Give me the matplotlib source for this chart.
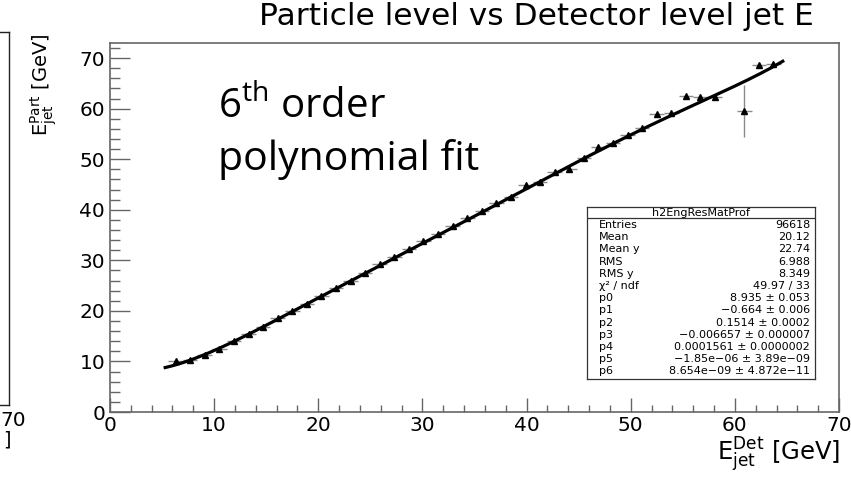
import numpy as np
import matplotlib
matplotlib.use('Agg')
import matplotlib.pyplot as plt
from matplotlib.ticker import MultipleLocator

# profile bins (bin centres, mean y, error on mean)
det_e = [6.3, 7.7, 9.1, 10.5, 11.9, 13.3, 14.7, 16.1, 17.5, 18.9,
         20.3, 21.7, 23.1, 24.5, 25.9, 27.3, 28.7, 30.1, 31.5, 32.9,
         34.3, 35.7, 37.1, 38.5, 39.9, 41.3, 42.7, 44.1, 45.5, 46.9,
         48.3, 49.7, 51.1, 52.5, 53.9, 55.3, 56.7, 58.1, 60.9, 62.3, 63.7]
part_e = [10.0, 10.2, 11.3, 12.5, 14.0, 15.4, 16.9, 18.5, 19.9, 21.4,
          23.0, 24.5, 25.9, 27.5, 29.2, 30.6, 32.2, 33.8, 35.3, 36.7,
          38.3, 39.8, 41.3, 42.5, 45.0, 45.6, 47.5, 48.0, 50.3, 52.5,
          53.2, 54.8, 56.2, 59.0, 59.2, 62.5, 62.3, 62.3, 59.5, 68.6, 68.8]
part_err = [0.3, 0.1, 0.1, 0.1, 0.1, 0.1, 0.1, 0.1, 0.1, 0.1,
            0.1, 0.1, 0.1, 0.1, 0.1, 0.1, 0.1, 0.1, 0.1, 0.1,
            0.1, 0.1, 0.1, 0.1, 0.1, 0.1, 0.1, 0.1, 0.1, 0.1,
            0.2, 0.2, 0.2, 0.2, 0.2, 0.3, 0.3, 0.3, 5.1, 0.4, 0.4]
bin_half_width = 0.7

# 6th order polynomial fit parameters p0..p6 and fit range
fit_p = [8.935, -0.664, 0.1514, -0.006657, 0.0001561, -1.85e-06, 8.654e-09]
fit_range = [5.3, 64.6]

stat_title = 'h2EngResMatProf'
stat_labels = ['Entries', 'Mean', 'Mean y', 'RMS', 'RMS y', 'χ² / ndf',
               'p0', 'p1', 'p2', 'p3', 'p4', 'p5', 'p6']
stat_values = ['96618', '20.12', '22.74', '6.988', '8.349', '49.97 / 33',
               '8.935 ± 0.053', '−0.664 ± 0.006', '0.1514 ± 0.0002',
               '−0.006657 ± 0.000007', '0.0001561 ± 0.0000002',
               '−1.85e−06 ± 3.89e−09', '8.654e−09 ± 4.872e−11']

W, H = 851, 478
fig = plt.figure(figsize=(W / 100, H / 100), dpi=100)
plt.rcParams['font.family'] = ['DejaVu Sans']
frame_col = '#666666'


def fx(px):
    return px / W


def fy(py):
    return 1 - py / H


# cut-off neighbouring panel on the left
lax = fig.add_axes([-0.5, fy(405), 0.5 + fx(9.5), fy(32) - fy(405)])
lax.set_xticks([])
lax.set_yticks([])
for s in lax.spines.values():
    s.set_color('#222222')
    s.set_linewidth(1)
fig.text(fx(0), fy(411), '70', ha='left', va='top', fontsize=14.5)
fig.text(fx(3), fy(430), ']', ha='left', va='top', fontsize=14)

# main panel
ax = fig.add_axes([fx(110), fy(412), fx(839) - fx(110), fy(43) - fy(412)])
ax.set_xlim(0, 70)
ax.set_ylim(0, 73)

ax.errorbar(det_e, part_e, xerr=bin_half_width, yerr=part_err, fmt='^',
            color='black', markersize=5, ecolor='#8a8a8a', elinewidth=1,
            capsize=0, zorder=3)

xf = np.linspace(fit_range[0], fit_range[1], 300)
yf = np.polynomial.polynomial.polyval(xf, fit_p)
ax.plot(xf, yf, color='black', lw=2.3, zorder=4)

ax.xaxis.set_major_locator(MultipleLocator(10))
ax.xaxis.set_minor_locator(MultipleLocator(2))
ax.yaxis.set_major_locator(MultipleLocator(10))
ax.yaxis.set_minor_locator(MultipleLocator(2))
ax.tick_params(which='both', direction='in', color=frame_col, top=False,
               right=False, labelsize=14.5, width=1)
ax.tick_params(axis='x', which='major', length=10, pad=3)
ax.tick_params(axis='x', which='minor', length=5)
ax.tick_params(axis='y', which='major', length=14.5, pad=3.5)
ax.tick_params(axis='y', which='minor', length=7)
for s in ax.spines.values():
    s.set_color(frame_col)
    s.set_linewidth(1.2)

fig.text(fx(536), fy(2), 'Particle level vs Detector level jet E',
         ha='center', va='top', fontsize=22.5)
fig.text(fx(44), fy(33), r'$\mathregular{E_{jet}^{Part}}$ [GeV]',
         rotation=90, ha='center', va='top', fontsize=14)
fig.text(fx(840), fy(461), r'$\mathregular{E_{jet}^{Det}}$ [GeV]',
         ha='right', va='baseline', fontsize=17.5)

fig.text(fx(218), fy(118), r'6$\mathregular{^{th}}$ order',
         ha='left', va='baseline', fontsize=29, family='Open Sans')
fig.text(fx(218), fy(170), 'polynomial fit',
         ha='left', va='baseline', fontsize=29.5, family='Open Sans')

# statistics box
sx0, sx1, sy0, sy1 = 587, 815, 207, 379
sax = fig.add_axes([fx(sx0), fy(sy1), fx(sx1) - fx(sx0), fy(sy0) - fy(sy1)])
sax.set_xlim(sx0, sx1)
sax.set_ylim(sy1, sy0)
sax.set_xticks([])
sax.set_yticks([])
for s in sax.spines.values():
    s.set_color('#333333')
    s.set_linewidth(0.9)
sax.axhline(218, color='#333333', lw=0.9)
sax.text((sx0 + sx1) / 2, 212.5, stat_title, ha='center', va='center', fontsize=8)
for i in range(len(stat_labels)):
    yy = 225 + 12.2 * i
    sax.text(599, yy, stat_labels[i], ha='left', va='center', fontsize=8)
    sax.text(810, yy, stat_values[i], ha='right', va='center', fontsize=8)

fig.savefig('out.png', dpi=100)
